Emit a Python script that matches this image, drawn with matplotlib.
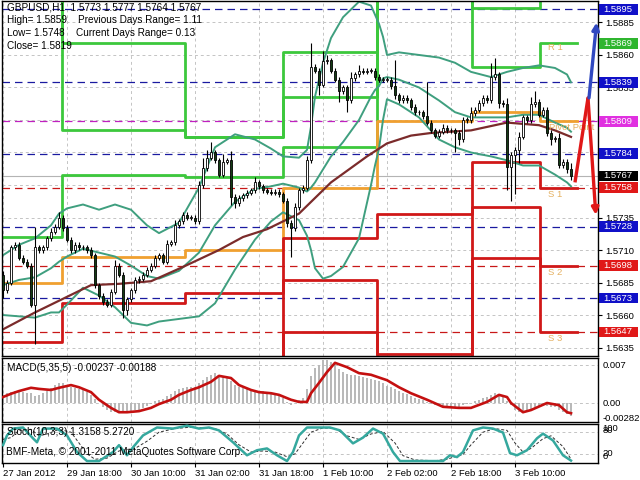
import matplotlib
matplotlib.use("Agg")
import matplotlib.pyplot as plt
from matplotlib.patches import Rectangle
import numpy as np

plt.rcParams['font.family'] = ['Liberation Sans', 'DejaVu Sans']

# ---------------- GBPUSD H1 bars ----------------
first_open = 1.5691
closes = [
    1.5679, 1.5685, 1.5712, 1.5714, 1.5704, 1.5701, 1.5698, 1.5668, 1.5712, 1.5710,
    1.5712, 1.5719, 1.5724, 1.5728, 1.5735, 1.5727, 1.5718, 1.5710, 1.5714, 1.5712,
    1.5712, 1.5710, 1.5706, 1.5683, 1.5675, 1.5670, 1.5668, 1.5678, 1.5698, 1.5691,
    1.5664, 1.5672, 1.5679, 1.5687, 1.5688, 1.5691, 1.5695, 1.5698, 1.5704, 1.5706,
    1.5701, 1.5715, 1.5716, 1.5729, 1.5732, 1.5737, 1.5735, 1.5735, 1.5732, 1.5760,
    1.5773, 1.5781, 1.5785, 1.5779, 1.5768, 1.5778, 1.5779, 1.5751, 1.5746, 1.5750,
    1.5752, 1.5754, 1.5756, 1.5762, 1.5759, 1.5756, 1.5755, 1.5754, 1.5755, 1.5753,
    1.5748, 1.5731, 1.5727, 1.5743, 1.5756, 1.5758, 1.5779, 1.5851, 1.5848, 1.5837,
    1.5855, 1.5856, 1.5848, 1.5841, 1.5832, 1.5835, 1.5825, 1.5842, 1.5845, 1.5848,
    1.5847, 1.5848, 1.5848, 1.5843, 1.5841, 1.5841, 1.5841, 1.5836, 1.5829, 1.5825,
    1.5827, 1.5825, 1.5820, 1.5816, 1.5816, 1.5813, 1.5808, 1.5802, 1.5798, 1.5801,
    1.5804, 1.5802, 1.5802, 1.5800, 1.5795, 1.5810, 1.5810, 1.5815, 1.5818, 1.5823,
    1.5827, 1.5825, 1.5843, 1.5845, 1.5823, 1.5822, 1.5774, 1.5783, 1.5787, 1.5797,
    1.5812, 1.5810, 1.5822, 1.5824, 1.5814, 1.5818, 1.5800, 1.5795, 1.5796, 1.5775,
    1.5778, 1.5772, 1.5767,
]
# wick length in pips above / below the candle body
wick_up = [
    3, 2, 2, 2, 2, 2, 2, 2, 16, 2,
    2, 2, 3, 2, 4, 2, 2, 2, 2, 2,
    2, 2, 2, 2, 2, 2, 2, 2, 4, 2,
    2, 2, 2, 2, 2, 2, 2, 2, 2, 2,
    2, 3, 2, 4, 2, 2, 2, 2, 2, 3,
    8, 6, 8, 2, 2, 6, 2, 7, 2, 2,
    2, 2, 2, 4, 2, 2, 2, 2, 2, 2,
    2, 2, 2, 3, 2, 2, 3, 18, 2, 2,
    8, 4, 2, 2, 2, 2, 2, 5, 2, 4,
    2, 2, 2, 2, 2, 2, 2, 2, 20, 2,
    2, 2, 2, 2, 2, 2, 26, 2, 2, 2,
    3, 2, 2, 2, 2, 2, 2, 5, 2, 2,
    2, 2, 11, 13, 2, 2, 5, 2, 2, 4,
    2, 2, 6, 8, 2, 2, 2, 2, 2, 4,
    2, 2, 5,
]
wick_dn = [
    6, 2, 2, 2, 2, 2, 2, 2, 30, 2,
    2, 2, 2, 2, 2, 2, 2, 2, 2, 2,
    2, 2, 2, 2, 3, 2, 2, 2, 2, 2,
    6, 4, 2, 2, 2, 2, 2, 2, 2, 2,
    2, 2, 2, 2, 2, 2, 2, 2, 2, 2,
    2, 2, 2, 2, 2, 2, 2, 6, 4, 2,
    2, 2, 2, 2, 2, 2, 2, 2, 2, 2,
    2, 3, 22, 2, 2, 2, 2, 2, 2, 8,
    2, 2, 2, 2, 8, 2, 9, 2, 2, 2,
    2, 2, 2, 2, 2, 2, 2, 2, 3, 2,
    2, 2, 2, 2, 2, 2, 2, 2, 2, 2,
    2, 2, 2, 15, 4, 2, 2, 2, 2, 2,
    2, 2, 2, 2, 4, 2, 18, 26, 30, 10,
    2, 2, 2, 2, 2, 2, 2, 4, 2, 2,
    2, 3, 3,
]

# Bollinger bands and moving average
bb_x = [0, 4, 8, 12, 14, 16, 20, 24, 28, 32, 36, 39, 44, 49, 53, 58, 63, 67, 70, 74,
        76, 77, 78, 79, 80, 82, 85, 89, 92, 93, 94, 95, 96, 99, 104, 109, 113, 117, 122, 126,
        130, 134, 138, 141, 142]
bb_upper = [1.5706, 1.5714, 1.5719, 1.5729, 1.5738, 1.5742, 1.5745, 1.5741, 1.5745, 1.5741,
            1.5729, 1.5723, 1.5731, 1.5758, 1.5789, 1.5799, 1.5795, 1.5788, 1.5782, 1.5781,
            1.5787, 1.5805, 1.5828, 1.5841, 1.5854, 1.5873, 1.5889, 1.5901, 1.5898, 1.5891,
            1.5884, 1.5874, 1.5860, 1.5862, 1.5860, 1.5858, 1.5854, 1.5847, 1.5843, 1.5847,
            1.5850, 1.5852, 1.5850, 1.5845, 1.5839]
bb_mid = [1.5683, 1.5687, 1.5689, 1.5696, 1.5701, 1.5705, 1.5711, 1.5708, 1.5705, 1.5698,
          1.5690, 1.5688, 1.5694, 1.5708, 1.5729, 1.5747, 1.5757, 1.5759, 1.5761, 1.5758,
          1.5755, 1.5758, 1.5762, 1.5767, 1.5772, 1.5782, 1.5793, 1.5810, 1.5828, 1.5833,
          1.5836, 1.5842, 1.5843, 1.5841, 1.5835, 1.5825, 1.5816, 1.5812, 1.5812, 1.5812,
          1.5814, 1.5814, 1.5808, 1.5804, 1.5801]
bb_lower = [1.5660, 1.5659, 1.5658, 1.5662, 1.5662, 1.5668, 1.5681, 1.5675, 1.5666, 1.5654,
            1.5652, 1.5655, 1.5657, 1.5659, 1.5669, 1.5695, 1.5718, 1.5732, 1.5739, 1.5733,
            1.5721, 1.5710, 1.5696, 1.5692, 1.5688, 1.5690, 1.5697, 1.5719, 1.5760, 1.5775,
            1.5788, 1.5810, 1.5826, 1.5822, 1.5812, 1.5795, 1.5789, 1.5785, 1.5782, 1.5779,
            1.5775, 1.5775, 1.5768, 1.5762, 1.5759]
ma_x = [0, 8, 16, 22, 29, 37, 45, 54, 60, 66, 74, 82, 91, 96, 102, 107, 112, 117, 126, 134, 138, 142]
ma_val = [1.5649, 1.5662, 1.5674, 1.5683, 1.5684, 1.5686, 1.5697, 1.5710, 1.5720, 1.5726, 1.5738,
          1.5762, 1.5782, 1.5792, 1.5798, 1.5800, 1.5801, 1.5802, 1.5808, 1.5806, 1.5802, 1.5797]

# daily pivot levels
pivot_start = [-0.25, 14.75, 45.5, 70, 93.5, 117.25, 134.25]
pivot_end = 143.5
r3 = [1.5950, 1.5869, 1.5797, 1.5862, 1.6050, 1.5950, 1.5981]
r2 = [1.5950, 1.5802, 1.5797, 1.5828, 1.6000, 1.5896, 1.5920]
r1 = [1.5720, 1.5768, 1.5766, 1.5789, 1.5925, 1.5851, 1.5869]
pp = [1.5685, 1.5705, 1.5710, 1.5758, 1.5809, 1.5816, 1.5809]
s1 = [1.5639, 1.5669, 1.5677, 1.5719, 1.5738, 1.5778, 1.5758]
s2 = [1.5600, 1.5610, 1.5620, 1.5687, 1.5630, 1.5743, 1.5698]
s3 = [1.5560, 1.5570, 1.5580, 1.5647, 1.5580, 1.5704, 1.5647]

h_blue = [1.5895, 1.5839, 1.5784, 1.5728, 1.5673]
h_red = [1.5758, 1.5698, 1.5647]
h_magenta = [1.5809]
bid = 1.5767
price_ticks = [1.5885, 1.5860, 1.5835, 1.5810, 1.5785, 1.5760, 1.5735, 1.5710, 1.5685, 1.5660, 1.5635]
hidden_ticks = [1.5810, 1.5785, 1.5760]
box_labels = [(1.5895, '#1010c8'), (1.5869, '#2fb52f'), (1.5839, '#1010c8'), (1.5809, '#e030e0'),
              (1.5784, '#1010c8'), (1.5767, '#000000'), (1.5758, '#e01818'), (1.5728, '#1010c8'),
              (1.5698, '#e01818'), (1.5673, '#1010c8'), (1.5647, '#e01818')]

# projection arrows at the right edge
red_path_x = [143, 146.25, 148.2]
red_path_y = [1.5762, 1.5827, 1.5737]
blue_path_x = [146.5, 148.4]
blue_path_y = [1.5827, 1.5885]

# MACD(5,35,5), in units of 0.001
macd_hist = [
    1.5, 1.8, 2.0, 2.2, 2.2, 2.0, 1.8, 1.8, 1.3, 1.5,
    1.8, 2.2, 2.8, 3.3, 3.7, 3.6, 3.3, 3.0, 2.8, 2.6,
    2.4, 2.0, 1.5, 0.8, 0.0, -0.8, -1.3, -1.6, -1.6, -1.5,
    -1.8, -1.7, -1.5, -1.3, -1.2, -0.9, -0.6, -0.2, 0.3, 0.6,
    0.8, 1.3, 1.7, 2.2, 2.5, 2.8, 2.9, 3.0, 3.0, 3.6,
    4.2, 4.7, 5.2, 5.5, 5.2, 5.0, 4.8, 4.0, 3.3, 3.0,
    2.8, 2.6, 2.5, 2.4, 2.3, 2.2, 2.0, 1.8, 1.6, 1.4,
    1.0, 0.2, -0.3, 0.0, 0.5, 1.0, 2.5, 5.0, 6.4, 7.0,
    7.9, 7.9, 7.6, 7.2, 6.3, 5.8, 5.3, 5.2, 5.2, 5.0,
    4.8, 4.6, 4.5, 4.3, 4.0, 3.6, 3.2, 3.0, 2.6, 2.2,
    1.9, 1.6, 1.3, 1.0, 0.8, 0.5, 0.2, -0.1, -0.4, -0.6,
    -0.7, -0.7, -0.7, -0.8, -0.7, -0.4, -0.2, 0.0, 0.3, 0.6,
    0.9, 1.1, 1.5, 1.8, 1.6, 1.3, 0.3, -0.3, -1.2, -1.6,
    -1.5, -1.7, -1.2, -0.8, -0.6, -0.4, -0.5, -0.7, -0.8, -1.3,
    -1.6, -2.1, -2.4,
]
sig_x = [0, 2, 4, 7, 9, 12, 14, 17, 19, 22, 24, 27, 29, 31, 34, 37, 39, 42, 44, 47,
         49, 52, 54, 57, 59, 62, 64, 67, 69, 72, 74, 76, 77, 79, 81, 83, 86, 89, 92, 96,
         99, 102, 106, 110, 114, 117, 121, 124, 126, 127, 130, 132, 136, 139, 141, 142]
sig_v = [1.1, 1.7, 2.2, 2.8, 2.6, 2.4, 2.8, 3.3, 2.9, 2.0, 0.6, -0.9, -1.7, -1.7, -1.5, -0.9, -0.2, 0.6, 1.5, 2.4,
         2.9, 3.9, 5.0, 4.6, 3.3, 2.4, 2.0, 1.8, 1.5, 0.6, 0.2, 0.2, 1.8, 3.7, 5.7, 7.4, 6.6, 5.5, 5.2, 4.2,
         2.9, 1.8, 0.6, -0.7, -0.9, -0.9, 0.2, 1.5, 1.1, 0.0, -1.7, -1.3, 0.0, -0.4, -1.7, -1.88]

# Stochastic(10,3,3)
st_x = [0, 1, 2.5, 5, 7.5, 8.5, 10, 13.5, 16, 18.5, 21, 24, 27.5, 29, 31, 32.5, 35, 38.5, 42.5, 46,
        49, 51.5, 54, 57.5, 61, 63.5, 66, 68.5, 71, 72.5, 74, 76, 78.5, 81.75, 84.25, 87.5, 90, 92.5, 95, 97.5,
        99.25, 104.25, 107.5, 110, 111.75, 113.5, 115, 117.5, 120, 122.5, 125, 126.75, 128.5, 131, 133.5,
        135, 137.5, 140, 142]
st_main = [44, 71, 90, 93, 63, 52, 90, 90, 71, 25, 0, 0, 25, 44, 16, 38, 71, 93, 90, 98,
           90, 93, 85, 52, 16, 30, 35, 16, 0, 25, 71, 93, 93, 93, 85, 49, 65, 90, 76, 25,
           0, 0, 0, 0, 16, 11, 25, 85, 93, 90, 79, 22, 16, 30, 63, 76, 57, 16, 1.3]
st_sig_x = [0, 2, 4, 7, 9, 11, 14, 17, 19, 21, 23, 26, 29, 31, 33, 36, 39, 43, 47, 50,
            53, 56, 59, 62, 65, 68, 71, 73, 75, 77, 80, 83, 86, 89, 92, 95, 98, 100, 103, 108,
            111, 113, 115, 117, 120, 123, 126, 128, 130, 132, 135, 137, 140, 142]
st_sig = [60, 65, 85, 88, 70, 75, 88, 80, 50, 20, 5, 8, 28, 32, 35, 55, 80, 90, 94, 92,
          90, 75, 45, 25, 28, 25, 12, 20, 50, 80, 92, 90, 70, 60, 75, 82, 50, 15, 3, 1,
          5, 12, 18, 45, 80, 90, 85, 50, 25, 35, 62, 70, 40, 5.3]

time_ticks = [0, 16, 32, 48, 64, 80, 96, 112, 128]
time_labels = ['27 Jan 2012', '29 Jan 18:00', '30 Jan 10:00', '31 Jan 02:00', '31 Jan 18:00',
               '1 Feb 10:00', '2 Feb 02:00', '2 Feb 18:00', '3 Feb 10:00']

FS = 6.8
GRID = dict(color='#c4c4c4', lw=0.7, ls=(0, (3, 3)))

fig = plt.figure(figsize=(6.4, 4.8), dpi=100)
ax = fig.add_axes([2 / 640, 124 / 480, 596 / 640, 355 / 480])
ax_m = fig.add_axes([2 / 640, 58 / 480, 596 / 640, 64 / 480])
ax_s = fig.add_axes([2 / 640, 17 / 480, 596 / 640, 39 / 480])
XL = (-0.25, 148.75)
for a in (ax, ax_m, ax_s):
    a.set_xlim(*XL)
    for sp in a.spines.values():
        sp.set_linewidth(1.0)
        sp.set_color('black')
    for t in time_ticks:
        a.axvline(t, zorder=0, **GRID)

# ---------- main pane ----------
ax.set_ylim(1.56285, 1.59015)
for p in price_ticks:
    ax.axhline(p, zorder=0, **GRID)
for p in h_blue:
    ax.axhline(p, color='#1a1aa0', lw=0.9, ls=(0, (6, 4)), zorder=1)
for p in h_red:
    ax.axhline(p, color='#c81818', lw=0.9, ls=(0, (6, 4)), zorder=1)
for p in h_magenta:
    ax.axhline(p, color='#c020c0', lw=0.9, ls=(0, (6, 4)), zorder=1)
ax.axhline(bid, color='#b4b4b4', lw=0.8, zorder=1)

steps_x = pivot_start + [pivot_end]
for lv in (r1, r2, r3):
    ax.plot(steps_x, lv + [lv[-1]], drawstyle='steps-post', color='#3cc83c', lw=2.0, zorder=2)
ax.plot(steps_x, pp + [pp[-1]], drawstyle='steps-post', color='#f0a030', lw=2.0, zorder=2)
for lv in (s1, s2, s3):
    ax.plot(steps_x, lv + [lv[-1]], drawstyle='steps-post', color='#d01818', lw=2.0, zorder=2)

ax.plot(bb_x, bb_upper, color='#3f9f7f', lw=1.4, zorder=2.2)
ax.plot(bb_x, bb_mid, color='#3f9f7f', lw=1.4, zorder=2.2)
ax.plot(bb_x, bb_lower, color='#3f9f7f', lw=1.4, zorder=2.2)
ax.plot(ma_x, ma_val, color='#7b2b2b', lw=1.6, zorder=2.3)

closes_a = np.array(closes)
opens = np.concatenate([[first_open], closes_a[:-1]])
top = np.maximum(opens, closes_a)
bot = np.minimum(opens, closes_a)
highs = top + np.array(wick_up) * 0.0001
lows = bot - np.array(wick_dn) * 0.0001
idx = np.arange(len(closes))
ax.vlines(idx, lows, highs, color='black', lw=0.8, zorder=3)
body_h = np.maximum(top - bot, 0.00004)
colors = np.where(closes_a >= opens, 'white', '#143c14')
ax.bar(idx, body_h, bottom=bot, width=0.66, color=colors, edgecolor='black', lw=0.6, zorder=4)

# projections
ax.plot(red_path_x[:2], red_path_y[:2], color='#e01818', lw=2.4, zorder=6, solid_capstyle='butt')
ax.annotate('', xy=(red_path_x[2], red_path_y[2]), xytext=(red_path_x[1], red_path_y[1]),
            arrowprops=dict(arrowstyle='-|>', color='#e01818', lw=2.4, mutation_scale=10,
                            shrinkA=0, shrinkB=0), zorder=6)
ax.annotate('', xy=(blue_path_x[1], blue_path_y[1]), xytext=(blue_path_x[0], blue_path_y[0]),
            arrowprops=dict(arrowstyle='-|>', color='#3048c0', lw=2.4, mutation_scale=10,
                            shrinkA=0, shrinkB=0), zorder=6)

# pivot captions
pcol = '#e4b060'
ax.text(136.2, 1.5866, 'R 1', color=pcol, fontsize=FS, va='center', zorder=5)
ax.text(136.5, 1.5804, 'Pivot Point', color=pcol, fontsize=FS, va='center', zorder=5)
ax.text(136.2, 1.5753, 'S 1', color=pcol, fontsize=FS, va='center', zorder=5)
ax.text(136.2, 1.5693, 'S 2', color=pcol, fontsize=FS, va='center', zorder=5)
ax.text(136.2, 1.5642, 'S 3', color=pcol, fontsize=FS, va='center', zorder=5)

ax.yaxis.tick_right()
ax.set_yticks(price_ticks)
ax.set_yticklabels(['' if p in hidden_ticks else f'{p:.4f}' for p in price_ticks])
ax.tick_params(axis='y', labelsize=FS, length=3, pad=2, width=0.8)
ax.set_xticks([])
ytr = ax.get_yaxis_transform()
box_h = 0.00082
for p, c in box_labels:
    ax.add_patch(Rectangle((1.0017, p - box_h / 2), 0.0654, box_h, transform=ytr, fc=c, ec='none',
                           clip_on=False, zorder=9))
    ax.text(1.009, p, f'{p:.4f}', transform=ytr, fontsize=FS, color='white', va='center', ha='left',
            clip_on=False, zorder=10)

head = [(0.983, 'GBPUSD,H1  1.5773 1.5777 1.5764 1.5767'),
        (0.946, 'High= 1.5859'), (0.910, 'Low= 1.5748'), (0.873, 'Close= 1.5819')]
for y, s in head:
    ax.text(0.008, y, s, transform=ax.transAxes, fontsize=FS + 0.4, va='center', zorder=9)
ax.text(0.128, 0.946, 'Previous Days Range= 1.11', transform=ax.transAxes, fontsize=FS + 0.4, va='center', zorder=9)
ax.text(0.124, 0.910, 'Current Days Range= 0.13', transform=ax.transAxes, fontsize=FS + 0.4, va='center', zorder=9)

# ---------- MACD pane ----------
ax_m.set_ylim(-0.0035, 0.00829)
ax_m.axhline(0.007, zorder=0, **GRID)
ax_m.axhline(0.0, zorder=0, **GRID)
ax_m.bar(idx, np.array(macd_hist) * 0.001, width=0.45, color='#b9b9b9', zorder=2)
ax_m.plot(sig_x, np.array(sig_v) * 0.001, color='#c41010', lw=1.9, zorder=3)
ax_m.set_xticks([])
ax_m.set_yticks([])
mtr = ax_m.get_yaxis_transform()
for v, s in [(0.007, '0.007'), (0.0, '0.00'), (-0.00282, '-0.00282')]:
    ax_m.text(1.008, v, s, transform=mtr, fontsize=FS, va='center', ha='left', clip_on=False)
ax_m.text(0.008, 0.84, 'MACD(5,35,5) -0.00237 -0.00188', transform=ax_m.transAxes, fontsize=FS + 0.4, va='center')

# ---------- Stochastic pane ----------
ax_s.set_ylim(-5.4, 102.7)
ax_s.axhline(80, zorder=0, **GRID)
ax_s.axhline(20, zorder=0, **GRID)
ax_s.plot(st_sig_x, st_sig, color='#303030', lw=0.7, ls=(0, (3, 2)), zorder=2)
ax_s.plot(st_x, st_main, color='#35a89e', lw=1.8, zorder=3)
ax_s.set_yticks([])
str_ = ax_s.get_yaxis_transform()
for v, s in [(90, '100'), (84, '80'), (20, '20'), (14, '0')]:
    ax_s.text(1.008, v, s, transform=str_, fontsize=FS, va='center', ha='left', clip_on=False)
ax_s.text(0.008, 0.80, 'Stoch(10,3,3) 1.3158 5.2720', transform=ax_s.transAxes, fontsize=FS + 0.4, va='center', zorder=5)
ax_s.text(0.006, 0.28, 'BMF-Meta, \u00a9 2001-2011 MetaQuotes Software Corp.', transform=ax_s.transAxes,
          fontsize=FS + 0.4, va='center', zorder=5)
ax_s.set_xticks(time_ticks)
ax_s.set_xticklabels(time_labels)
ax_s.tick_params(axis='x', labelsize=FS, length=3, pad=1.5, width=0.8)
for t in ax_s.get_xticklabels():
    t.set_ha('left')

fig.savefig('out.png', dpi=100, facecolor='white')
